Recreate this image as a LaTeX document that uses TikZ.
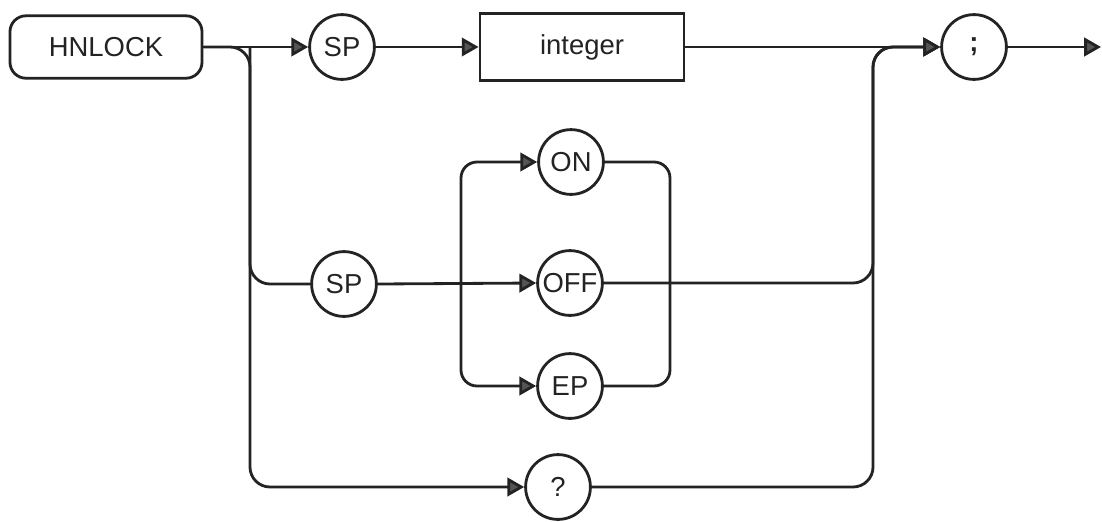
\documentclass[tikz,border=0pt]{standalone}
\usepackage{fontspec}
\setmainfont{Liberation Sans}
\usetikzlibrary{arrows.meta}
\definecolor{inkgray}{RGB}{35, 35, 35}
\definecolor{tipgray}{RGB}{85, 85, 85}

\tikzset{
  syntext/.style={font=\fontsize{19.5}{22}\selectfont, text=inkgray},
  keyword/.style={syntext, draw=inkgray, line width=2pt, circle, minimum size=1.62cm, inner sep=0pt},
  cmdbox/.style={syntext, draw=inkgray, line width=2pt, rounded corners=0.4cm, minimum width=4.8cm, minimum height=1.56cm},
  parambox/.style={syntext, draw=inkgray, line width=2pt, minimum width=5.1cm, minimum height=1.68cm},
  rail/.style={draw=inkgray, line width=2pt, rounded corners=0.5cm},
  feed/.style={rail, -{Triangle[length=0.42cm, width=0.46cm, fill=tipgray]}},
}

\begin{document}
\begin{tikzpicture}[x=0.025cm, y=-0.025cm]
    \useasboundingbox (0,0) rectangle (1102,521);

    % top row
    \node[cmdbox] (hnlock) at (106,47) {HNLOCK};
    \node[keyword] (sp1) at (342,47) {SP};
    \node[parambox] (integer) at (582,47) {integer};
    \node[keyword] (semi) at (974,47) {\textbf{;}};
    \coordinate (out) at (1101,47);

    % lower alternatives
    \node[keyword] (sp2) at (344,284) {SP};
    \node[keyword] (on) at (571,162) {ON};
    \node[keyword] (off) at (570,283) {OFF};
    \node[keyword] (ep) at (570,386) {EP};
    \node[keyword] (quest) at (558,487) {?};

    \coordinate (split) at (250,47);
    \coordinate (lsplit) at (461,283);
    \coordinate (rjoin) at (670,283);
    \coordinate (merge) at (873,283);

    \draw[feed] (hnlock.east) -- (sp1.west);
    \draw[feed] (sp1.east) -- (integer.west);
    \draw[feed] (integer.east) -- (semi.west);
    \draw[feed] (semi.east) -- (out);

    % branches off the keyword
    \draw[feed] (hnlock.east) -| (split |- quest.west) -- (quest.west);
    \draw[rail] (split) |- (sp2.west);
    \draw[feed] (sp2.east) -- (off.west);

    % ON / OFF / EP loop
    \draw[feed, rounded corners=0.4cm] (lsplit) |- (on.west);
    \draw[feed, rounded corners=0.4cm] (lsplit) |- (ep.west);
    \draw[rail, rounded corners=0.4cm] (on.east) -| (rjoin);
    \draw[rail, rounded corners=0.4cm] (ep.east) -| (rjoin);

    % back up to the terminator
    \draw[feed] (off.east) -| (merge |- semi.west) -- (semi.west);
    \draw[feed] (quest.east) -| (merge |- semi.west) -- (semi.west);
\end{tikzpicture}
\end{document}
